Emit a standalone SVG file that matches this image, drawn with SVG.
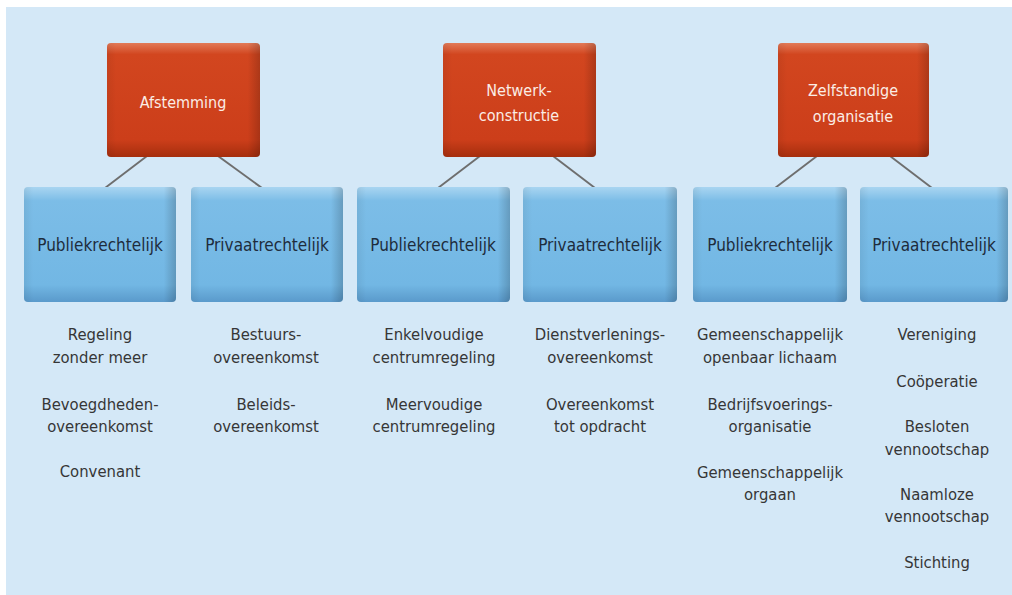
<svg xmlns="http://www.w3.org/2000/svg" width="1012" height="595" viewBox="0 0 1012 595">
<defs>
<linearGradient id="redV" x1="0" y1="0" x2="0" y2="1">
<stop offset="0" stop-color="#E27A58"/>
<stop offset="0.1" stop-color="#D2461F"/>
<stop offset="0.85" stop-color="#CC3E1A"/>
<stop offset="1" stop-color="#A52E0E"/>
</linearGradient>
<linearGradient id="blueV" x1="0" y1="0" x2="0" y2="1">
<stop offset="0" stop-color="#A9D5F1"/>
<stop offset="0.12" stop-color="#7CBDE7"/>
<stop offset="0.85" stop-color="#72B7E4"/>
<stop offset="1" stop-color="#5A9ACB"/>
</linearGradient>
<linearGradient id="edgeH" x1="0" y1="0" x2="1" y2="0">
<stop offset="0" stop-color="#000" stop-opacity="0.06"/>
<stop offset="0.06" stop-color="#000" stop-opacity="0"/>
<stop offset="0.92" stop-color="#000" stop-opacity="0"/>
<stop offset="1" stop-color="#000" stop-opacity="0.18"/>
</linearGradient>
</defs>
<style>
.red{fill:url(#redV)}
.blue{fill:url(#blueV)}
.edge{fill:url(#edgeH)}
.rt{font-family:"DejaVu Sans Condensed","DejaVu Sans",sans-serif;font-stretch:condensed;font-size:16px;fill:#FBEDE6;text-anchor:middle}
.bt{font-family:"DejaVu Sans Condensed","DejaVu Sans",sans-serif;font-stretch:condensed;font-size:17px;fill:#1E2C3C;text-anchor:middle}
.lt{font-family:"DejaVu Sans Condensed","DejaVu Sans",sans-serif;font-stretch:condensed;font-size:16.5px;fill:#363636;text-anchor:middle}
.conn line{stroke:#6E6E6E;stroke-width:2}
</style>
<rect x="0" y="0" width="1012" height="595" fill="#FFFFFF"/>
<rect x="6" y="7" width="1006" height="588" fill="#D4E8F7"/>

<g id="connectors" class="conn">
<line x1="147" y1="156" x2="105" y2="188"/>
<line x1="218" y1="156" x2="262" y2="188"/>
<line x1="480" y1="156" x2="438" y2="188"/>
<line x1="553" y1="156" x2="595" y2="188"/>
<line x1="817" y1="156" x2="775" y2="188"/>
<line x1="890" y1="156" x2="932" y2="188"/>
</g>

<g id="afstemming">
<rect class="red" x="107" y="43" width="153" height="114" rx="4"/>
<rect class="edge" x="107" y="43" width="153" height="114" rx="4"/>
<text class="rt" x="183" y="108">Afstemming</text>
</g>
<g id="netwerkconstructie">
<rect class="red" x="443" y="43" width="153" height="114" rx="4"/>
<rect class="edge" x="443" y="43" width="153" height="114" rx="4"/>
<text class="rt" x="519" y="96">Netwerk-</text>
<text class="rt" x="519" y="121">constructie</text>
</g>
<g id="zelfstandige">
<rect class="red" x="778" y="43" width="151" height="114" rx="4"/>
<rect class="edge" x="778" y="43" width="151" height="114" rx="4"/>
<text class="rt" x="853" y="96">Zelfstandige</text>
<text class="rt" x="853" y="122">organisatie</text>
</g>

<g id="pub1">
<rect class="blue" x="24" y="187" width="152" height="115" rx="4"/>
<rect class="edge" x="24" y="187" width="152" height="115" rx="4"/>
<text class="bt" x="100" y="251">Publiekrechtelijk</text>
</g>
<g id="priv1">
<rect class="blue" x="191" y="187" width="152" height="115" rx="4"/>
<rect class="edge" x="191" y="187" width="152" height="115" rx="4"/>
<text class="bt" x="267" y="251">Privaatrechtelijk</text>
</g>
<g id="pub2">
<rect class="blue" x="357" y="187" width="153" height="115" rx="4"/>
<rect class="edge" x="357" y="187" width="153" height="115" rx="4"/>
<text class="bt" x="433" y="251">Publiekrechtelijk</text>
</g>
<g id="priv2">
<rect class="blue" x="523" y="187" width="154" height="115" rx="4"/>
<rect class="edge" x="523" y="187" width="154" height="115" rx="4"/>
<text class="bt" x="600" y="251">Privaatrechtelijk</text>
</g>
<g id="pub3">
<rect class="blue" x="693" y="187" width="154" height="115" rx="4"/>
<rect class="edge" x="693" y="187" width="154" height="115" rx="4"/>
<text class="bt" x="770" y="251">Publiekrechtelijk</text>
</g>
<g id="priv3">
<rect class="blue" x="860" y="187" width="148" height="115" rx="4"/>
<rect class="edge" x="860" y="187" width="148" height="115" rx="4"/>
<text class="bt" x="934" y="251">Privaatrechtelijk</text>
</g>

<g id="list1">
<text class="lt" x="100" y="340">Regeling</text>
<text class="lt" x="100" y="363">zonder meer</text>
<text class="lt" x="100" y="410">Bevoegdheden-</text>
<text class="lt" x="100" y="432">overeenkomst</text>
<text class="lt" x="100" y="477">Convenant</text>
</g>
<g id="list2">
<text class="lt" x="266" y="340">Bestuurs-</text>
<text class="lt" x="266" y="363">overeenkomst</text>
<text class="lt" x="266" y="410">Beleids-</text>
<text class="lt" x="266" y="432">overeenkomst</text>
</g>
<g id="list3">
<text class="lt" x="434" y="340">Enkelvoudige</text>
<text class="lt" x="434" y="363">centrumregeling</text>
<text class="lt" x="434" y="410">Meervoudige</text>
<text class="lt" x="434" y="432">centrumregeling</text>
</g>
<g id="list4">
<text class="lt" x="600" y="340">Dienstverlenings-</text>
<text class="lt" x="600" y="363">overeenkomst</text>
<text class="lt" x="600" y="410">Overeenkomst</text>
<text class="lt" x="600" y="432">tot opdracht</text>
</g>
<g id="list5">
<text class="lt" x="770" y="340">Gemeenschappelijk</text>
<text class="lt" x="770" y="363">openbaar lichaam</text>
<text class="lt" x="770" y="410">Bedrijfsvoerings-</text>
<text class="lt" x="770" y="432">organisatie</text>
<text class="lt" x="770" y="478">Gemeenschappelijk</text>
<text class="lt" x="770" y="500">orgaan</text>
</g>
<g id="list6">
<text class="lt" x="937" y="340">Vereniging</text>
<text class="lt" x="937" y="387">Coöperatie</text>
<text class="lt" x="937" y="432">Besloten</text>
<text class="lt" x="937" y="455">vennootschap</text>
<text class="lt" x="937" y="500">Naamloze</text>
<text class="lt" x="937" y="522">vennootschap</text>
<text class="lt" x="937" y="568">Stichting</text>
</g>
</svg>
